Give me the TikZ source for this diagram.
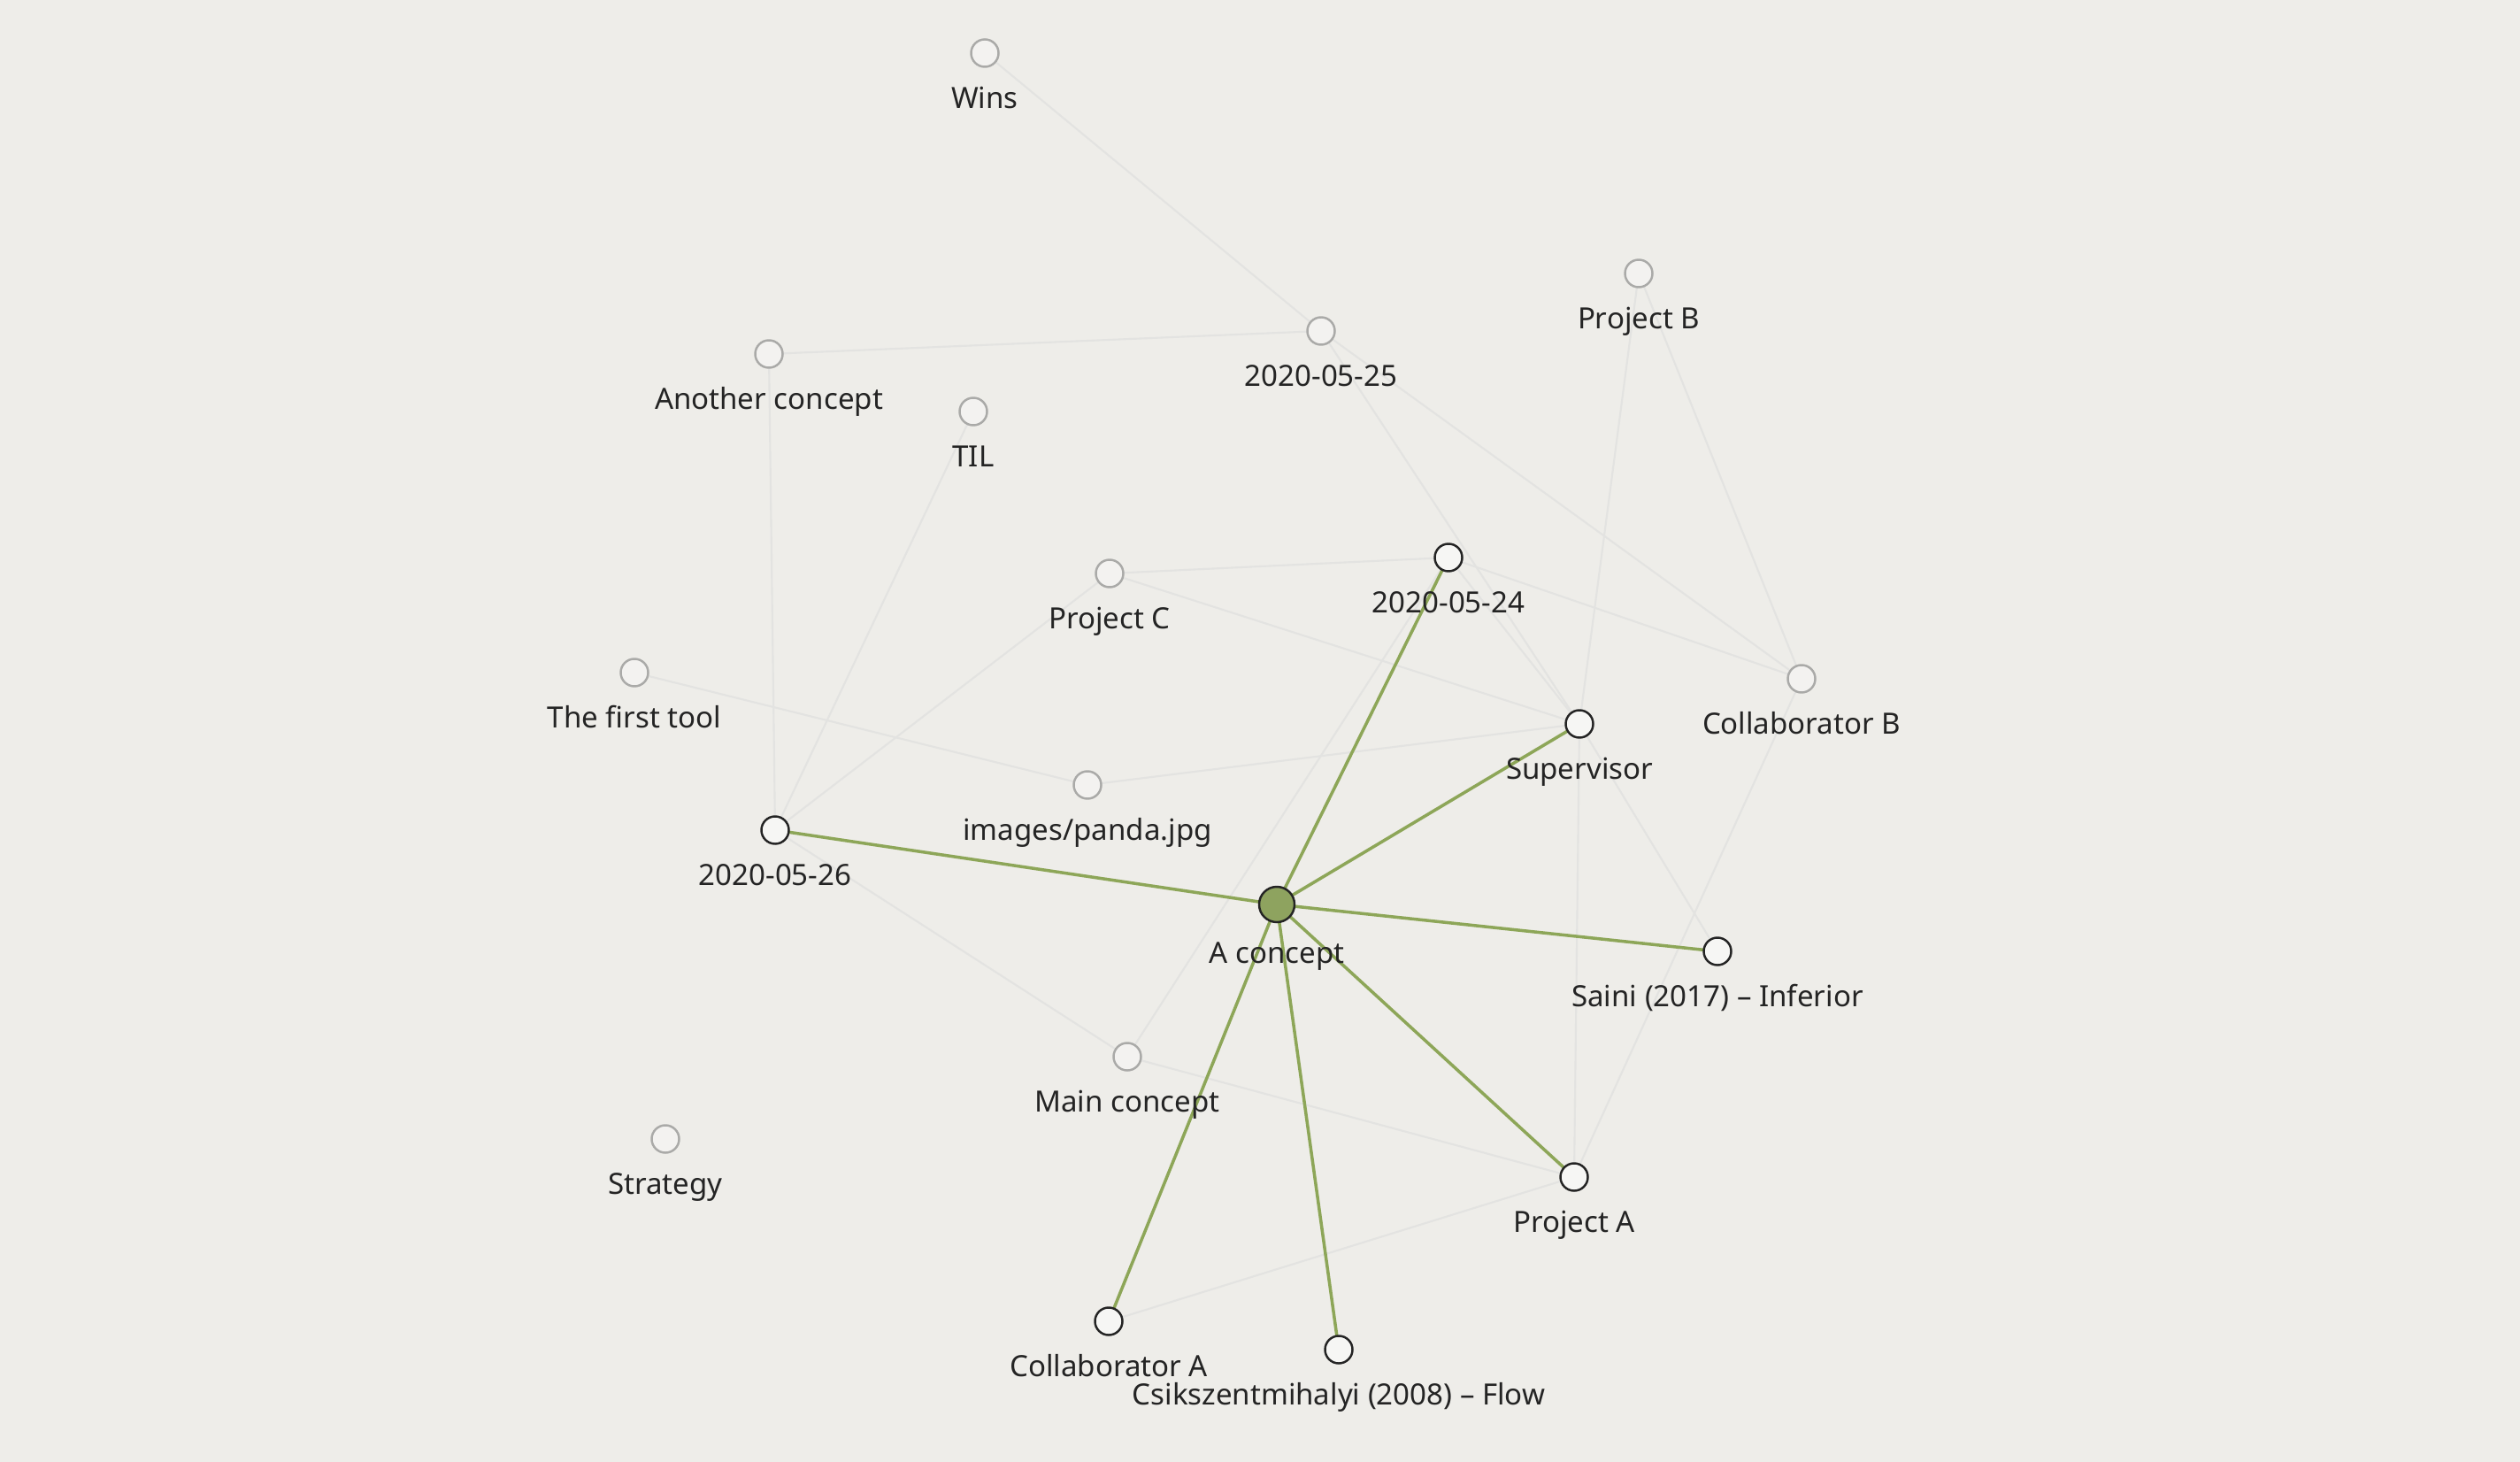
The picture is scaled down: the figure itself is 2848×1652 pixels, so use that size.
\documentclass[tikz,border=0pt]{standalone}
\usepackage{fontspec}
\setsansfont{Noto Sans}
\definecolor{paper}{RGB}{238, 237, 233}
\definecolor{moss}{RGB}{141, 166, 88}
\definecolor{mossfill}{RGB}{142, 163, 95}
\definecolor{haze}{RGB}{227, 227, 225}
\definecolor{ash}{RGB}{170, 170, 168}
\definecolor{ink}{RGB}{36, 36, 36}
\definecolor{chalk}{RGB}{246, 246, 244}
\pgfdeclarelayer{ground}
\pgfdeclarelayer{wires}
\pgfsetlayers{ground,wires,main}
\tikzset{
    dot/.style      = {circle, draw=ink, fill=chalk, line width=0.7pt, minimum size=0.31cm, inner sep=0pt, outer sep=0pt},
    fadeddot/.style = {dot, draw=ash, fill=chalk!60!paper},
    hubdot/.style   = {dot, fill=mossfill, minimum size=0.40cm},
    faint/.style    = {draw=haze, line width=0.6pt},
    strong/.style   = {draw=moss, line width=1pt},
    every label/.style = {font=\sffamily\fontsize{9.4}{10}\selectfont, text=ink, inner sep=0pt, text height=6.6pt, text depth=2pt},
    label distance  = 0.23cm
}
\begin{document}
\begin{tikzpicture}[x=0.01cm, y=-0.01cm]
    \begin{pgfonlayer}{ground}
        \fill[paper] (0,0) rectangle (2848,1652);
    \end{pgfonlayer}

    \node[fadeddot, label=below:Wins]                               (wins)     at (1113,   60) {};
    \node[fadeddot, label=below:Project B]                          (projb)    at (1852,  309) {};
    \node[fadeddot, label=below:2020-05-25]                         (d25)      at (1493,  374) {};
    \node[fadeddot, label=below:Another concept]                    (another)  at ( 869,  400) {};
    \node[fadeddot, label=below:TIL]                                (til)      at (1100,  465) {};
    \node[fadeddot, label=below:Project C]                          (projc)    at (1254,  648) {};
    \node[dot,      label=below:2020-05-24]                         (d24)      at (1637,  630) {};
    \node[fadeddot, label=below:The first tool]                     (tool)     at ( 717,  760) {};
    \node[fadeddot, label=below:Collaborator B]                     (collb)    at (2036,  767) {};
    \node[dot,      label=below:Supervisor]                         (sup)      at (1785,  818) {};
    \node[fadeddot, label=below:images/panda.jpg]                   (panda)    at (1229,  887) {};
    \node[dot,      label=below:2020-05-26]                         (d26)      at ( 876,  938) {};
    \node[hubdot,   label=below:A concept]                          (hub)      at (1443, 1022) {};
    \node[dot,      label={below:Saini (2017) – Inferior}]          (saini)    at (1941, 1075) {};
    \node[fadeddot, label=below:Main concept]                       (mainc)    at (1274, 1194) {};
    \node[fadeddot, label=below:Strategy]                           (strategy) at ( 752, 1287) {};
    \node[dot,      label=below:Project A]                          (proja)    at (1779, 1330) {};
    \node[dot,      label=below:Collaborator A]                     (colla)    at (1253, 1493) {};
    \node[dot,      label={below:Csikszentmihalyi (2008) – Flow}]   (csik)     at (1513, 1525) {};

    \begin{pgfonlayer}{wires}
        \foreach \from/\to in {wins/d25, another/d25, another/d26, til/d26, projc/d26, projc/d24, projc/sup,
                               tool/panda, panda/sup, d25/sup, d25/collb, d24/sup, d24/collb, projb/sup,
                               projb/collb, sup/proja, sup/saini, collb/proja, d26/mainc, mainc/proja,
                               mainc/d24, colla/proja}
            \draw[faint] (\from) -- (\to);
        \foreach \to in {d26, d24, sup, saini, proja, colla, csik}
            \draw[strong] (hub) -- (\to);
    \end{pgfonlayer}
\end{tikzpicture}
\end{document}
